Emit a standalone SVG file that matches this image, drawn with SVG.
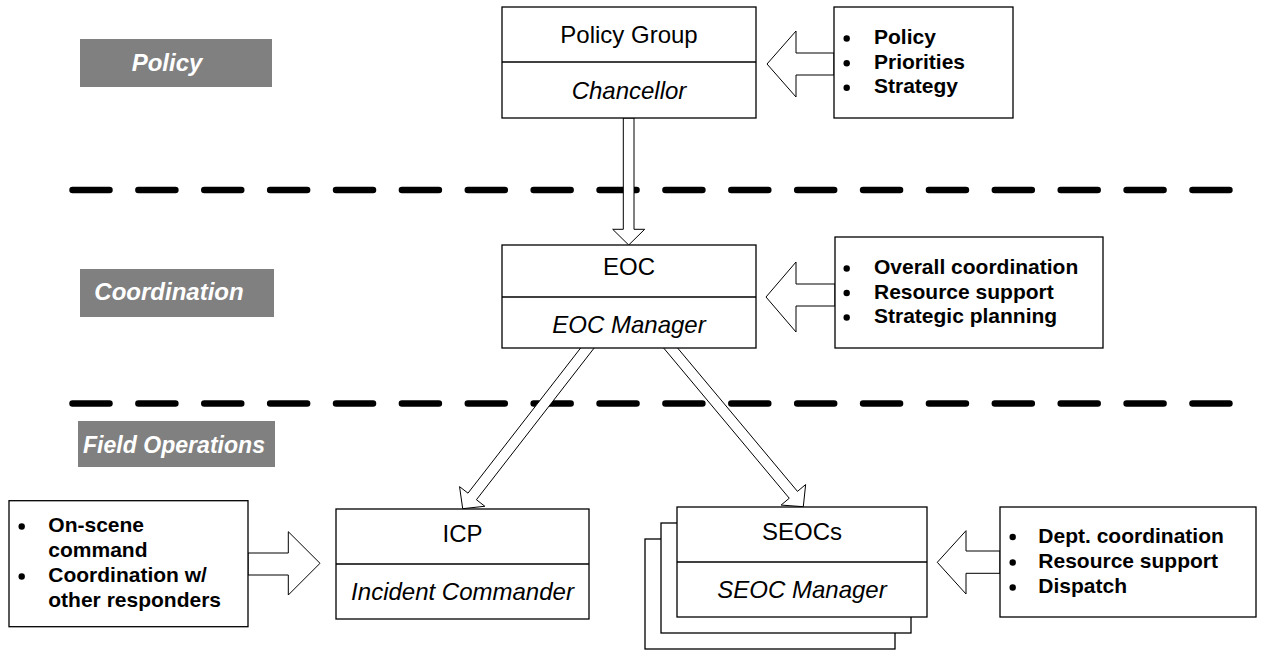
<svg xmlns="http://www.w3.org/2000/svg" width="1269" height="650" viewBox="0 0 1269 650">
  <style>
    .box { fill: #fff; stroke: #000; stroke-width: 1.3; }
    .div { stroke: #000; stroke-width: 1.3; }
    .arrow { fill: #fff; stroke: #000; stroke-width: 1; stroke-linejoin: miter; }
    .band { fill: #808080; }
    .band-t { font-family: "Liberation Sans", Arial, sans-serif; font-size: 24px; font-weight: bold; font-style: italic; fill: #fff; text-anchor: middle; }
    .title { font-family: "Liberation Sans", Arial, sans-serif; font-size: 24px; fill: #000; text-anchor: middle; }
    .role { font-family: "Liberation Sans", Arial, sans-serif; font-size: 24px; font-style: italic; fill: #000; text-anchor: middle; }
    .item { font-family: "Liberation Sans", Arial, sans-serif; font-size: 21px; font-weight: bold; fill: #000; }
    .dot { fill: #000; }
    .dash { fill: none; stroke: #000; stroke-width: 6.5; stroke-linecap: round; stroke-dasharray: 37 28.88; }
  </style>

  <!-- tier separators -->
  <g id="separators">
    <path class="dash" d="M72.5 190 H1230"/>
    <path class="dash" d="M72.5 403.5 H1230"/>
  </g>

  <!-- tier labels -->
  <g id="tier-policy">
    <rect class="band" x="80" y="39" width="192" height="48"/>
    <text class="band-t" x="167" y="71">Policy</text>
  </g>
  <g id="tier-coordination">
    <rect class="band" x="80" y="269" width="194" height="48"/>
    <text class="band-t" x="169" y="300">Coordination</text>
  </g>
  <g id="tier-field">
    <rect class="band" x="78" y="421" width="197" height="46"/>
    <text class="band-t" x="174" y="453" textLength="182" lengthAdjust="spacingAndGlyphs">Field Operations</text>
  </g>

  <!-- connectors -->
  <g id="connectors">
    <polygon class="arrow" points="623.3,118 634,118 634,229.3 644.7,229.3 628.7,245 612.7,229.3 623.3,229.3"/>
    <polygon class="arrow" points="586.27,340.72 467.97,493.17 459.56,486.64 462.7,508.7 484.84,506.26 476.43,499.73 594.73,347.28"/>
    <polygon class="arrow" points="671.36,340.57 797.46,491.38 805.63,484.55 803.3,506.7 781.09,505.07 789.26,498.24 663.16,347.43"/>
    <polygon class="arrow" points="834,53 796,53 796,31 767,64 796,97 796,75 834,75"/>
    <polygon class="arrow" points="835,284 796,284 796,262 766,297 796,332 796,306 835,306"/>
    <polygon class="arrow" points="1000,551 966,551 966,530.7 937.3,562.3 966,594 966,573.3 1000,573.3"/>
    <polygon class="arrow" points="248,553 288.3,553 288.3,531.7 320,563.3 288.3,595 288.3,575 248,575"/>
  </g>

  <!-- nodes -->
  <g id="policy-group">
    <rect class="box" x="502" y="7" width="254" height="111"/>
    <line class="div" x1="502" y1="62" x2="756" y2="62"/>
    <text class="title" x="629" y="43">Policy Group</text>
    <text class="role" x="629" y="99">Chancellor</text>
  </g>

  <g id="policy-tasks">
    <rect class="box" x="834" y="7" width="179" height="111"/>
    <circle class="dot" cx="846.7" cy="38.5" r="3.2"/>
    <circle class="dot" cx="846.7" cy="63.2" r="3.2"/>
    <circle class="dot" cx="846.7" cy="87.8" r="3.2"/>
    <text class="item" x="874" y="44">Policy</text>
    <text class="item" x="874" y="68.7">Priorities</text>
    <text class="item" x="874" y="93.3">Strategy</text>
  </g>

  <g id="eoc">
    <rect class="box" x="502" y="245" width="254" height="103"/>
    <line class="div" x1="502" y1="297" x2="756" y2="297"/>
    <text class="title" x="629" y="275">EOC</text>
    <text class="role" x="629" y="333">EOC Manager</text>
  </g>

  <g id="eoc-tasks">
    <rect class="box" x="835" y="237" width="268" height="111"/>
    <circle class="dot" cx="846.7" cy="268.5" r="3.2"/>
    <circle class="dot" cx="846.7" cy="293" r="3.2"/>
    <circle class="dot" cx="846.7" cy="317.5" r="3.2"/>
    <text class="item" x="874" y="274">Overall coordination</text>
    <text class="item" x="874" y="298.5">Resource support</text>
    <text class="item" x="874" y="323">Strategic planning</text>
  </g>

  <g id="icp-tasks">
    <rect class="box" x="9" y="500.7" width="239" height="126"/>
    <circle class="dot" cx="21.7" cy="526.5" r="3.2"/>
    <circle class="dot" cx="21.7" cy="576.5" r="3.2"/>
    <text class="item" x="48.3" y="532">On-scene</text>
    <text class="item" x="48.3" y="557">command</text>
    <text class="item" x="48.3" y="582">Coordination w/</text>
    <text class="item" x="48.3" y="607">other responders</text>
  </g>

  <g id="icp">
    <rect class="box" x="336" y="509" width="253" height="110"/>
    <line class="div" x1="336" y1="564" x2="589" y2="564"/>
    <text class="title" x="462.5" y="542">ICP</text>
    <text class="role" x="462.5" y="600">Incident Commander</text>
  </g>

  <g id="seocs">
    <rect class="box" x="645" y="539" width="250" height="110"/>
    <rect class="box" x="661" y="523" width="250" height="110"/>
    <rect class="box" x="677" y="507" width="250" height="110"/>
    <line class="div" x1="677" y1="562" x2="927" y2="562"/>
    <text class="title" x="802" y="540">SEOCs</text>
    <text class="role" x="802" y="598">SEOC Manager</text>
  </g>

  <g id="seoc-tasks">
    <rect class="box" x="1000" y="507" width="256" height="110"/>
    <circle class="dot" cx="1012.7" cy="537" r="3.2"/>
    <circle class="dot" cx="1012.7" cy="562.5" r="3.2"/>
    <circle class="dot" cx="1012.7" cy="587.5" r="3.2"/>
    <text class="item" x="1038.3" y="542.7">Dept. coordination</text>
    <text class="item" x="1038.3" y="568">Resource support</text>
    <text class="item" x="1038.3" y="593.3">Dispatch</text>
  </g>
</svg>
